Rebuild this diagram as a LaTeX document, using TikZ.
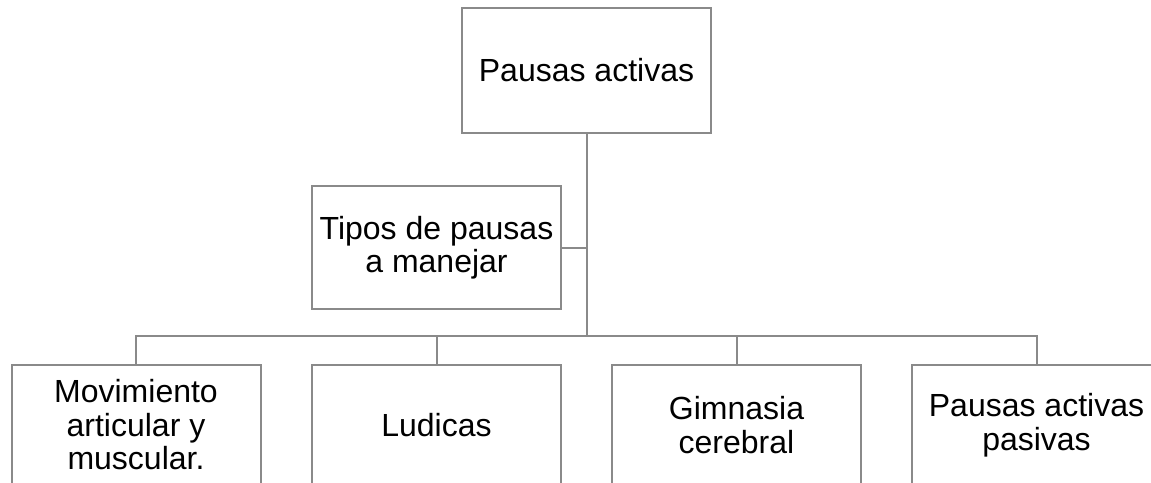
\documentclass[tikz,border=0pt]{standalone}
\usepackage{fontspec}
\setmainfont{Liberation Sans}
\definecolor{linegray}{RGB}{138,138,138}
\begin{document}
\begin{tikzpicture}[x=1pt,y=-1pt,
  box/.style={draw=linegray, line width=2pt, fill=white, minimum width=249pt, inner sep=0pt,
    align=center, font=\fontsize{32}{33.5}\selectfont, text=black},
  conn/.style={draw=linegray, line width=2pt}]
\useasboundingbox (0,0) rectangle (1151,482);
\clip (0,0) rectangle (1151,482);
\node[box, minimum height=125pt] (top) at (586.5,70.5) {Pausas activas};
\node[box, minimum height=123pt] (tipos) at (436.5,247.5) {Tipos de pausas\\a manejar};
\node[box, minimum height=120pt] (c1) at (136,425) {Movimiento\\articular y\\muscular.};
\node[box, minimum height=120pt] (c2) at (436.5,425) {Ludicas};
\node[box, minimum height=120pt] (c3) at (736.5,425) {Gimnasia\\cerebral};
\node[box, minimum height=120pt] (c4) at (1036.5,425) {Pausas activas\\pasivas};
\coordinate (bus) at (0,336);
\draw[conn] (top.south) -- (top.south |- bus);
\draw[conn] (tipos.east) -- (tipos.east -| top.south);
\draw[conn] (c1.north) -- (c1.north |- bus) -- (c4.north |- bus) -- (c4.north);
\draw[conn] (c2.north) -- (c2.north |- bus);
\draw[conn] (c3.north) -- (c3.north |- bus);
\end{tikzpicture}
\end{document}
